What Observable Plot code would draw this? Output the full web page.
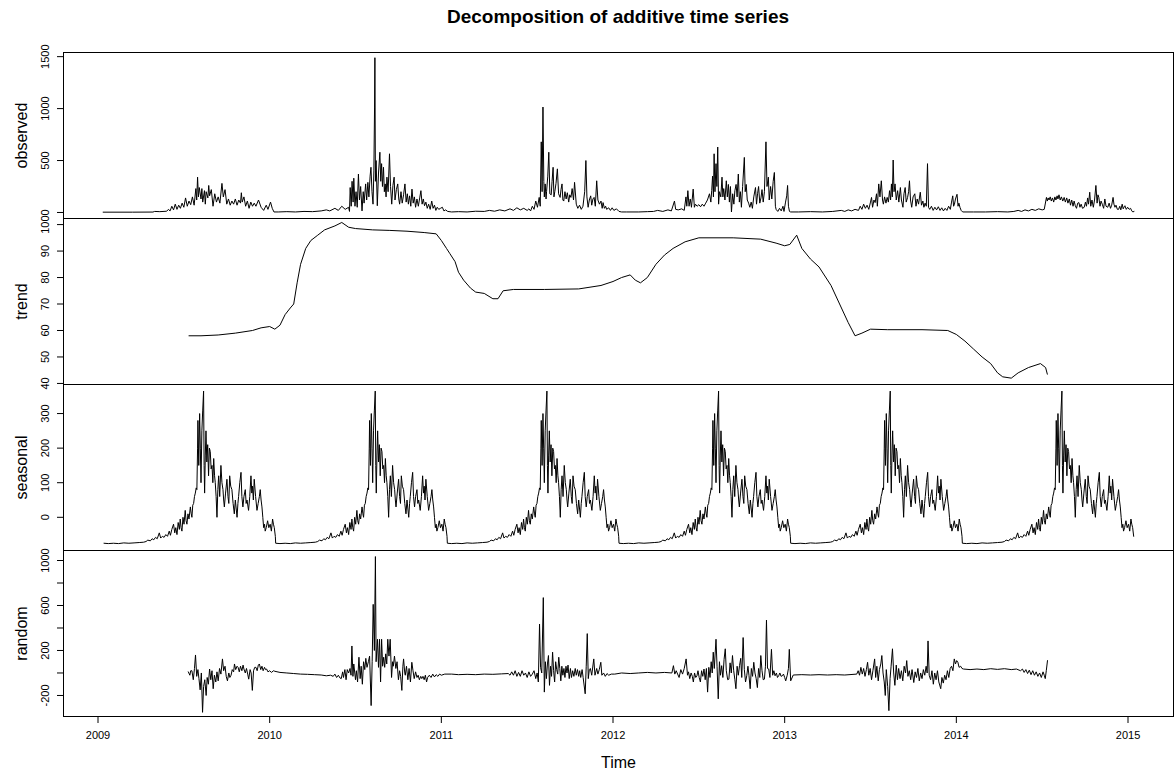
<!DOCTYPE html>
<html><head><meta charset="utf-8">
<script src="https://cdn.jsdelivr.net/npm/d3@7"></script>
<script src="https://cdn.jsdelivr.net/npm/@observablehq/plot@0.6"></script>
<style>
body{margin:0;background:#fff;font-family:"Liberation Sans",Arial,sans-serif;}
#wrap{position:relative;width:1175px;height:770px;overflow:hidden;}
#title{position:absolute;top:6px;left:63px;width:1110px;text-align:center;font-weight:bold;font-size:19px;color:#000;}
.panel{position:absolute;left:0;}
</style></head>
<body><div id="wrap"><div id="title">Decomposition of additive time series</div></div>
<script>
// ---------- data (decimal year, value) ----------
const years = [2009, 2010, 2011, 2012, 2013, 2014, 2015];

const observed = [
[2009.03,3],[2009.2,3],[2009.32,4],[2009.33,10],[2009.36,8],[2009.40,12],[2009.41,30],[2009.42,15],[2009.43,60],[2009.44,25],[2009.45,80],[2009.46,30],[2009.47,70],[2009.48,40],[2009.49,90],[2009.50,50],[2009.51,140],[2009.52,60],[2009.53,110],[2009.54,75],[2009.55,150],[2009.56,70],[2009.57,230],[2009.575,120],[2009.58,340],[2009.585,150],[2009.59,240],[2009.60,130],[2009.605,230],[2009.61,100],[2009.62,210],[2009.625,80],[2009.63,200],[2009.64,140],[2009.645,260],[2009.65,160],[2009.66,220],[2009.67,60],[2009.68,180],[2009.69,100],[2009.70,150],[2009.71,90],[2009.722,280],[2009.73,150],[2009.74,220],[2009.75,80],[2009.76,130],[2009.77,70],[2009.78,110],[2009.79,80],[2009.80,130],[2009.81,70],[2009.82,120],[2009.83,90],[2009.835,190],[2009.84,100],[2009.85,150],[2009.86,60],[2009.87,110],[2009.88,40],[2009.89,100],[2009.90,60],[2009.91,90],[2009.92,60],[2009.935,120],[2009.95,50],[2009.965,20],[2009.98,70],[2009.99,30],[2010.005,100],[2010.015,40],[2010.025,5],
[2010.05,5],[2010.10,8],[2010.15,5],[2010.20,10],[2010.25,8],[2010.30,15],[2010.33,25],[2010.35,15],[2010.38,40],[2010.40,20],[2010.42,60],[2010.44,30],[2010.46,50],[2010.465,10],
[2010.469,240],[2010.475,60],[2010.48,300],[2010.486,100],[2010.49,330],[2010.497,60],[2010.503,200],[2010.51,50],[2010.517,370],[2010.523,120],[2010.53,250],[2010.538,15],[2010.545,200],[2010.55,90],[2010.559,275],[2010.565,120],[2010.572,290],[2010.578,150],[2010.585,350],[2010.59,435],[2010.596,200],[2010.602,80],[2010.607,400],[2010.611,1015],[2010.613,1490],[2010.616,300],[2010.62,500],[2010.627,65],[2010.634,380],[2010.642,580],[2010.647,300],[2010.652,470],[2010.657,250],[2010.663,435],[2010.668,200],[2010.673,275],[2010.678,150],[2010.683,340],[2010.69,200],[2010.698,565],[2010.704,250],[2010.711,80],[2010.718,260],[2010.725,340],[2010.73,120],[2010.738,220],[2010.746,275],[2010.752,130],[2010.757,80],[2010.765,200],[2010.772,90],[2010.78,170],[2010.788,275],[2010.795,100],[2010.802,180],[2010.808,80],[2010.815,160],[2010.822,60],[2010.829,225],[2010.836,90],[2010.843,150],[2010.85,50],[2010.858,130],[2010.866,60],[2010.874,140],[2010.881,210],[2010.888,80],[2010.895,130],[2010.902,65],[2010.91,100],[2010.918,40],[2010.926,80],[2010.935,30],[2010.944,110],[2010.952,40],[2010.96,70],[2010.968,20],[2010.976,50],[2010.985,30],[2010.995,40],[2011.006,50],[2011.015,15],[2011.025,25],[2011.037,10],
[2011.06,5],[2011.10,8],[2011.15,5],[2011.20,12],[2011.25,10],[2011.28,20],[2011.31,12],[2011.34,25],[2011.37,15],[2011.40,35],[2011.42,20],[2011.44,45],[2011.46,25],[2011.48,40],[2011.50,20],[2011.51,35],[2011.52,15],
[2011.53,60],[2011.54,30],[2011.55,110],[2011.56,50],[2011.57,145],[2011.576,60],[2011.582,680],[2011.587,200],[2011.592,1015],[2011.597,300],[2011.60,150],[2011.605,275],[2011.61,130],[2011.613,200],[2011.62,350],[2011.626,580],[2011.632,180],[2011.64,170],[2011.645,300],[2011.651,435],[2011.656,150],[2011.661,200],[2011.668,280],[2011.676,420],[2011.683,180],[2011.692,145],[2011.697,220],[2011.703,275],[2011.708,120],[2011.713,110],[2011.72,200],[2011.727,130],[2011.734,190],[2011.742,100],[2011.748,170],[2011.755,145],[2011.762,230],[2011.77,120],[2011.776,290],[2011.786,80],[2011.795,40],[2011.805,70],[2011.815,30],[2011.825,60],[2011.835,200],[2011.842,500],[2011.848,150],[2011.855,50],[2011.862,120],[2011.87,160],[2011.876,70],[2011.883,130],[2011.89,145],[2011.897,60],[2011.905,305],[2011.912,120],[2011.921,80],[2011.93,110],[2011.937,40],[2011.942,95],[2011.95,40],[2011.957,60],[2011.963,30],[2011.975,45],[2011.985,20],[2011.995,45],[2012.005,20],[2012.02,35],[2012.035,10],[2012.05,5],
[2012.08,5],[2012.15,5],[2012.20,8],[2012.236,10],[2012.26,20],[2012.29,10],[2012.32,25],[2012.34,15],[2012.358,110],[2012.365,30],[2012.38,25],[2012.40,35],[2012.415,20],
[2012.425,150],[2012.43,60],[2012.436,210],[2012.443,60],[2012.45,130],[2012.457,50],[2012.467,225],[2012.474,50],[2012.48,80],[2012.49,60],[2012.50,75],[2012.51,55],[2012.52,80],[2012.53,60],[2012.54,90],[2012.55,120],[2012.562,180],[2012.57,100],[2012.575,210],[2012.58,350],[2012.585,150],[2012.589,565],[2012.594,200],[2012.60,470],[2012.605,250],[2012.61,630],[2012.615,80],[2012.62,200],[2012.628,150],[2012.635,340],[2012.64,150],[2012.645,230],[2012.652,120],[2012.66,305],[2012.666,150],[2012.672,270],[2012.678,100],[2012.684,250],[2012.69,5],[2012.697,180],[2012.704,80],[2012.71,210],[2012.717,270],[2012.723,150],[2012.73,370],[2012.736,100],[2012.742,200],[2012.748,50],[2012.755,250],[2012.765,530],[2012.77,200],[2012.776,270],[2012.782,120],[2012.79,90],[2012.797,50],[2012.805,100],[2012.812,40],[2012.82,150],[2012.83,240],[2012.836,80],[2012.842,180],[2012.848,250],[2012.855,90],[2012.862,140],[2012.868,220],[2012.875,100],[2012.882,200],[2012.891,680],[2012.897,250],[2012.905,340],[2012.91,120],[2012.918,250],[2012.925,130],[2012.933,300],[2012.94,385],[2012.946,60],[2012.95,30],[2012.96,10],[2012.97,40],[2012.98,15],[2012.99,60],[2012.996,10],[2013.005,100],[2013.012,160],[2013.017,260],[2013.022,60],[2013.028,10],[2013.035,5],
[2013.08,5],[2013.15,8],[2013.22,5],[2013.28,10],[2013.33,20],[2013.35,10],[2013.37,25],[2013.39,15],[2013.41,30],[2013.43,20],
[2013.44,60],[2013.45,30],[2013.46,80],[2013.47,40],[2013.48,70],[2013.49,30],[2013.50,100],[2013.506,145],[2013.512,50],[2013.52,120],[2013.527,95],[2013.535,180],[2013.54,60],[2013.548,275],[2013.555,150],[2013.563,305],[2013.57,120],[2013.575,80],[2013.582,150],[2013.59,90],[2013.597,145],[2013.604,100],[2013.611,210],[2013.617,120],[2013.622,275],[2013.627,150],[2013.632,505],[2013.637,200],[2013.643,275],[2013.65,120],[2013.658,210],[2013.665,100],[2013.674,240],[2013.68,120],[2013.689,50],[2013.695,180],[2013.702,240],[2013.708,100],[2013.716,145],[2013.722,200],[2013.727,305],[2013.733,120],[2013.74,50],[2013.748,150],[2013.758,180],[2013.765,60],[2013.772,130],[2013.78,80],[2013.785,140],[2013.79,195],[2013.797,70],[2013.805,110],[2013.811,50],[2013.818,90],[2013.825,60],[2013.832,470],[2013.838,50],[2013.845,30],[2013.855,60],[2013.865,20],[2013.875,50],[2013.885,25],[2013.895,55],[2013.905,20],[2013.915,45],[2013.925,15],[2013.935,40],[2013.945,20],[2013.955,60],[2013.965,30],[2013.972,100],[2013.979,160],[2013.984,60],[2013.989,80],[2013.995,130],[2014.004,175],[2014.01,60],[2014.015,90],[2014.021,50],[2014.028,20],[2014.037,5],
[2014.10,5],[2014.17,5],[2014.24,8],[2014.30,5],[2014.335,10],[2014.36,20],[2014.38,10],[2014.40,25],[2014.42,15],[2014.44,30],[2014.46,20],[2014.48,35],[2014.50,25],[2014.512,30],
[2014.525,145],[2014.53,110],[2014.535,140],[2014.54,120],[2014.547,150],[2014.553,110],[2014.56,140],[2014.567,100],[2014.574,150],[2014.58,120],[2014.587,160],[2014.592,130],[2014.598,170],[2014.605,120],[2014.612,150],[2014.62,110],[2014.628,145],[2014.635,100],[2014.643,140],[2014.65,90],[2014.658,130],[2014.665,70],[2014.672,120],[2014.68,60],[2014.686,110],[2014.693,65],[2014.70,40],[2014.707,90],[2014.714,95],[2014.72,50],[2014.727,80],[2014.735,40],[2014.745,50],[2014.752,100],[2014.758,60],[2014.765,140],[2014.77,80],[2014.777,195],[2014.783,60],[2014.79,120],[2014.798,50],[2014.805,120],[2014.813,260],[2014.82,90],[2014.825,170],[2014.83,145],[2014.837,60],[2014.843,110],[2014.85,80],[2014.858,40],[2014.865,130],[2014.872,60],[2014.882,50],[2014.89,90],[2014.898,40],[2014.905,70],[2014.913,145],[2014.918,80],[2014.924,50],[2014.93,70],[2014.938,30],[2014.945,30],[2014.952,60],[2014.958,25],[2014.966,80],[2014.972,35],[2014.978,55],[2014.982,65],[2014.99,30],[2014.998,50],[2015.007,30],[2015.015,40],[2015.022,15],[2015.028,5],[2015.035,10]
];

const trend = [
[2009.53,58],[2009.6,58],[2009.7,58.3],[2009.8,59],[2009.9,60],[2009.95,61],[2010.0,61.5],[2010.03,60.5],[2010.06,62],[2010.09,66],[2010.12,68.5],[2010.14,70],[2010.16,78],[2010.18,85],[2010.21,91],[2010.24,94],[2010.28,96],[2010.32,98],[2010.38,99.5],[2010.42,100.8],[2010.46,99],[2010.5,98.5],[2010.6,98],[2010.7,97.8],[2010.8,97.5],[2010.9,97],[2010.97,96.5],[2011.0,94],[2011.03,91],[2011.05,89],[2011.08,86],[2011.1,82],[2011.13,79],[2011.17,76],[2011.2,74.5],[2011.25,74],[2011.3,72],[2011.33,72],[2011.36,75],[2011.42,75.5],[2011.6,75.5],[2011.8,75.7],[2011.93,77],[2012.0,78.5],[2012.05,80],[2012.1,81],[2012.13,79],[2012.16,78],[2012.2,80],[2012.25,85],[2012.3,88.5],[2012.35,91],[2012.42,93.5],[2012.5,95],[2012.6,95],[2012.7,95],[2012.86,94.5],[2012.95,93],[2013.0,92],[2013.03,92.5],[2013.07,96],[2013.1,91],[2013.15,87],[2013.2,84],[2013.27,77],[2013.32,70],[2013.37,63],[2013.41,58],[2013.45,59],[2013.5,60.5],[2013.6,60.3],[2013.8,60.3],[2013.95,60],[2014.0,58.5],[2014.05,56],[2014.1,53],[2014.15,50],[2014.2,47.5],[2014.24,44],[2014.27,42.5],[2014.32,42],[2014.36,44],[2014.42,46],[2014.49,47.5],[2014.52,46],[2014.53,43.5]
];

// one period of the (strictly periodic) seasonal component, as [fraction of year, value]
const seasonalCycle = [
[0.035,-75],[0.06,-76],[0.09,-75],[0.12,-76],[0.15,-74],[0.18,-75],[0.21,-74],[0.24,-73],[0.266,-72],[0.28,-70],[0.29,-66],[0.305,-68],[0.315,-62],[0.325,-65],[0.335,-58],[0.345,-62],[0.357,-45],[0.365,-60],[0.375,-55],[0.385,-58],[0.395,-50],[0.405,-55],[0.415,-40],[0.422,-52],[0.43,-35],[0.44,-20],[0.447,-45],[0.453,-30],[0.46,-50],[0.467,-15],[0.474,-35],[0.479,-5],[0.484,-30],[0.489,-40],[0.495,0],[0.501,-20],[0.508,20],[0.513,-10],[0.518,-20],[0.524,10],[0.53,-5],[0.538,30],[0.543,10],[0.547,0],[0.552,35],[0.557,40],[0.562,60],[0.567,70],[0.572,85],[0.576,80],[0.58,200],[0.582,280],[0.587,150],[0.592,300],[0.596,200],[0.6,100],[0.605,250],[0.61,310],[0.615,365],[0.618,150],[0.621,70],[0.625,180],[0.629,250],[0.634,160],[0.639,210],[0.644,120],[0.649,200],[0.654,190],[0.659,140],[0.664,150],[0.669,100],[0.674,170],[0.679,120],[0.683,100],[0.688,60],[0.693,0],[0.698,80],[0.703,120],[0.709,60],[0.716,150],[0.722,100],[0.728,80],[0.732,50],[0.736,30],[0.743,70],[0.751,110],[0.757,60],[0.762,40],[0.767,120],[0.773,90],[0.78,80],[0.787,40],[0.794,10],[0.8,50],[0.81,0],[0.815,40],[0.819,60],[0.826,100],[0.833,130],[0.838,60],[0.844,30],[0.85,60],[0.858,80],[0.863,40],[0.868,50],[0.877,20],[0.884,60],[0.891,120],[0.896,70],[0.9,90],[0.905,50],[0.91,110],[0.918,60],[0.926,20],[0.933,40],[0.94,60],[0.945,80],[0.95,50],[0.955,30],[0.96,0],[0.965,-30],[0.97,-20],[0.974,-40],[0.98,-30],[0.988,-10],[0.995,-30],[1.003,-20],[1.01,-40],[1.017,-5],[1.022,-20],[1.027,-30],[1.033,-55]
];

const random = [
[2009.526,10],[2009.535,-20],[2009.54,20],[2009.547,20],[2009.555,-60],[2009.562,40],[2009.568,160],[2009.575,-30],[2009.582,30],[2009.588,-50],[2009.595,-150],[2009.602,0],[2009.609,-350],[2009.615,-120],[2009.622,-60],[2009.63,-200],[2009.636,-40],[2009.643,-100],[2009.65,35],[2009.657,-60],[2009.664,20],[2009.671,-140],[2009.678,-20],[2009.686,-80],[2009.693,10],[2009.70,-70],[2009.708,40],[2009.716,-10],[2009.725,125],[2009.732,20],[2009.74,60],[2009.747,-30],[2009.754,-70],[2009.762,0],[2009.768,-40],[2009.775,-20],[2009.782,30],[2009.79,10],[2009.795,80],[2009.802,30],[2009.81,60],[2009.816,50],[2009.823,10],[2009.83,60],[2009.838,20],[2009.845,70],[2009.85,35],[2009.858,0],[2009.865,40],[2009.872,-10],[2009.878,-55],[2009.886,30],[2009.892,0],[2009.899,-155],[2009.906,20],[2009.913,50],[2009.92,50],[2009.927,20],[2009.934,70],[2009.94,80],[2009.948,30],[2009.955,60],[2009.962,20],[2009.97,50],[2009.976,30],[2009.982,35],[2009.99,10],[2010.0,20],[2010.01,5],[2010.023,20],[2010.03,15],[2010.06,5],[2010.1,0],[2010.14,-5],[2010.18,-10],[2010.22,-12],[2010.26,-15],[2010.3,-18],[2010.33,-25],[2010.355,-20],[2010.37,-30],[2010.38,-10],[2010.39,-40],[2010.40,-20],[2010.41,-45],[2010.417,-50],[2010.425,10],[2010.43,-40],[2010.438,30],[2010.445,-60],[2010.452,30],[2010.46,0],[2010.468,40],[2010.474,-20],[2010.479,240],[2010.485,-30],[2010.49,80],[2010.5,-60],[2010.505,20],[2010.512,-80],[2010.52,140],[2010.527,-50],[2010.533,60],[2010.54,-100],[2010.547,100],[2010.554,30],[2010.56,130],[2010.567,50],[2010.575,100],[2010.582,150],[2010.591,-290],[2010.597,100],[2010.603,610],[2010.61,200],[2010.616,1035],[2010.62,100],[2010.628,300],[2010.634,50],[2010.64,300],[2010.646,-80],[2010.652,300],[2010.658,60],[2010.664,140],[2010.67,50],[2010.676,170],[2010.682,80],[2010.688,300],[2010.695,150],[2010.702,300],[2010.71,-40],[2010.716,100],[2010.72,60],[2010.727,150],[2010.735,40],[2010.742,100],[2010.75,-60],[2010.757,20],[2010.763,-30],[2010.77,-155],[2010.776,60],[2010.78,125],[2010.787,0],[2010.79,-20],[2010.797,60],[2010.805,-60],[2010.812,40],[2010.82,-80],[2010.828,95],[2010.835,20],[2010.842,-50],[2010.85,10],[2010.858,-40],[2010.865,-20],[2010.872,-60],[2010.88,-30],[2010.886,-50],[2010.893,-30],[2010.9,-60],[2010.907,-20],[2010.914,-80],[2010.92,-40],[2010.93,-20],[2010.94,-40],[2010.95,-10],[2010.96,-35],[2010.97,-15],[2010.98,-30],[2010.99,-10],[2011.0,-20],[2011.02,-10],[2011.06,-10],[2011.1,-15],[2011.15,-12],[2011.2,-15],[2011.25,-10],[2011.3,-12],[2011.35,-8],[2011.39,-5],[2011.4,-20],[2011.41,10],[2011.42,-20],[2011.43,20],[2011.44,-30],[2011.45,5],[2011.46,-30],[2011.47,20],[2011.48,-20],[2011.49,0],[2011.5,-40],[2011.51,10],[2011.52,-30],[2011.53,-10],[2011.54,20],[2011.55,-50],[2011.558,0],[2011.565,-80],[2011.572,435],[2011.578,50],[2011.585,0],[2011.594,670],[2011.6,-170],[2011.606,100],[2011.612,-50],[2011.618,80],[2011.624,155],[2011.63,-110],[2011.636,60],[2011.642,-30],[2011.648,185],[2011.654,20],[2011.66,-80],[2011.666,100],[2011.672,30],[2011.678,-10],[2011.684,140],[2011.69,40],[2011.696,-70],[2011.702,60],[2011.708,-20],[2011.714,40],[2011.72,-40],[2011.726,60],[2011.732,0],[2011.738,70],[2011.745,-50],[2011.752,40],[2011.758,-40],[2011.765,20],[2011.772,-30],[2011.78,40],[2011.786,-20],[2011.793,30],[2011.8,-30],[2011.806,20],[2011.812,-40],[2011.82,30],[2011.826,-40],[2011.838,-185],[2011.844,60],[2011.85,350],[2011.856,-50],[2011.862,30],[2011.868,40],[2011.876,-20],[2011.888,125],[2011.895,-20],[2011.905,40],[2011.912,-10],[2011.92,30],[2011.929,95],[2011.935,-20],[2011.945,0],[2011.955,-30],[2011.965,-5],[2011.975,-20],[2011.99,-10],[2012.01,-10],[2012.05,0],[2012.1,-5],[2012.15,0],[2012.2,5],[2012.25,0],[2012.3,5],[2012.343,0],
[2012.352,65],[2012.36,-10],[2012.368,20],[2012.385,-40],[2012.395,30],[2012.405,-10],[2012.415,40],[2012.426,125],[2012.434,-20],[2012.44,10],[2012.447,-50],[2012.455,0],[2012.462,-30],[2012.468,-80],[2012.475,0],[2012.482,-40],[2012.489,-25],[2012.495,20],[2012.502,-40],[2012.509,-80],[2012.516,20],[2012.523,-30],[2012.53,35],[2012.537,-60],[2012.544,40],[2012.551,-170],[2012.558,50],[2012.565,-40],[2012.572,100],[2012.578,0],[2012.584,185],[2012.59,40],[2012.6,300],[2012.606,60],[2012.613,-230],[2012.62,100],[2012.626,-20],[2012.633,65],[2012.64,-40],[2012.647,120],[2012.654,215],[2012.66,20],[2012.668,-60],[2012.675,-55],[2012.682,90],[2012.689,0],[2012.696,155],[2012.703,20],[2012.71,-60],[2012.716,-140],[2012.723,60],[2012.73,-20],[2012.737,65],[2012.744,130],[2012.75,-40],[2012.758,315],[2012.765,30],[2012.772,-80],[2012.779,-25],[2012.786,60],[2012.792,-20],[2012.799,-140],[2012.806,40],[2012.813,-30],[2012.82,95],[2012.827,0],[2012.834,-50],[2012.841,-130],[2012.848,40],[2012.855,-40],[2012.861,155],[2012.868,20],[2012.875,-60],[2012.882,-55],[2012.888,60],[2012.894,470],[2012.9,40],[2012.907,35],[2012.914,-40],[2012.923,210],[2012.93,-20],[2012.937,20],[2012.944,-25],[2012.952,0],[2012.958,-40],[2012.965,-25],[2012.972,0],[2012.979,-30],[2012.986,-25],[2012.993,-10],[2013.0,-40],[2013.006,-70],[2013.015,-20],[2013.022,40],[2013.027,210],[2013.035,-70],[2013.05,-18],[2013.1,-15],[2013.15,-18],[2013.2,-15],[2013.25,-18],[2013.3,-15],[2013.35,-18],[2013.42,-10],
[2013.428,20],[2013.436,-20],[2013.444,50],[2013.452,-10],[2013.46,40],[2013.468,-30],[2013.476,30],[2013.483,95],[2013.49,-20],[2013.498,40],[2013.506,-60],[2013.514,20],[2013.524,125],[2013.53,-40],[2013.537,60],[2013.545,-70],[2013.552,30],[2013.56,80],[2013.566,155],[2013.573,0],[2013.58,-80],[2013.586,-200],[2013.592,30],[2013.6,-120],[2013.607,-335],[2013.614,-50],[2013.62,60],[2013.628,215],[2013.635,0],[2013.642,-110],[2013.65,70],[2013.657,-60],[2013.664,40],[2013.672,-50],[2013.68,20],[2013.688,-70],[2013.696,60],[2013.704,0],[2013.711,110],[2013.718,-30],[2013.726,20],[2013.734,-60],[2013.742,30],[2013.752,-85],[2013.76,10],[2013.768,-40],[2013.776,40],[2013.784,-70],[2013.792,0],[2013.8,-50],[2013.808,30],[2013.816,-20],[2013.824,60],[2013.83,0],[2013.835,285],[2013.842,-20],[2013.85,-60],[2013.858,20],[2013.866,-100],[2013.874,0],[2013.882,-60],[2013.89,20],[2013.898,-80],[2013.909,-140],[2013.916,-40],[2013.924,-90],[2013.932,-20],[2013.94,-60],[2013.948,20],[2013.956,-40],[2013.964,40],[2013.972,60],[2013.98,20],[2013.988,125],[2013.995,80],[2014.002,110],[2014.009,95],[2014.016,50],[2014.025,60],[2014.033,40],[2014.042,35],[2014.08,30],[2014.12,35],[2014.16,30],[2014.2,38],[2014.24,32],[2014.28,38],[2014.32,30],[2014.35,35],[2014.374,20],[2014.385,35],[2014.395,5],[2014.405,30],[2014.415,-5],[2014.425,25],[2014.435,-15],[2014.445,20],[2014.455,-20],[2014.465,10],[2014.475,-30],[2014.485,0],[2014.495,-40],[2014.505,10],[2014.512,-20],[2014.518,-50],[2014.524,20],[2014.531,110]
];

const obsTicks = [0, 500, 1000, 1500];
const trendTicks = [40, 50, 60, 70, 80, 90, 100];
const seasTicks = [0, 100, 200, 300];
const randTicks = [-200, 0, 200, 400, 600, 800, 1000];
const randLabels = [-200, 200, 600, 1000];

// tile the periodic seasonal component over the series span
const seasonal = [];
for (let k = 0; k < 6; k++) for (const [f, v] of seasonalCycle) seasonal.push([2009 + k + f, v]);

// ---------- drawing ----------
const xDomain = [2008.799, 2015.265];
const FONT = "'Liberation Sans', Arial, Helvetica, sans-serif";

function panel({data, yDomain, ticks, labels, name, top, bottom = false}) {
  const mb = bottom ? 54 : 1;
  const svg = Plot.plot({
    width: 1175, height: 1 + 166 + mb,
    marginLeft: 63, marginRight: 2, marginTop: 1, marginBottom: mb,
    x: {domain: xDomain, axis: null}, y: {domain: yDomain, axis: null},
    style: {background: "transparent", fontFamily: FONT, overflow: "visible", color: "#000"},
    marks: [
      Plot.axisY({ticks, tickSize: 6, tickFormat: () => "", label: null}),
      Plot.text(labels, {y: d => d, text: d => String(d), frameAnchor: "left", textAnchor: "middle", lineAnchor: "middle", dx: -18, rotate: -90, fontSize: 11, fill: "#000"}),
      Plot.text([name], {text: d => d, frameAnchor: "left", textAnchor: "middle", lineAnchor: "middle", dx: -42, rotate: -90, fontSize: 16, fill: "#000"}),
      Plot.line(data, {x: d => d[0], y: d => d[1], stroke: "#000", strokeWidth: 1}),
      Plot.frame({stroke: "#000", strokeWidth: 1}),
      ...(bottom ? [
        Plot.axisX({ticks: years, tickSize: 7, tickPadding: 8, tickFormat: d => String(d), fontSize: 11, label: null}),
        Plot.text(["Time"], {text: d => d, frameAnchor: "bottom", lineAnchor: "middle", dy: 46, fontSize: 16, fill: "#000"})
      ] : [])
    ]
  });
  svg.classList.add("panel");
  svg.style.top = (top - 1) + "px";
  document.getElementById("wrap").appendChild(svg);
}

panel({data: observed, yDomain: [-58, 1540], ticks: obsTicks, labels: obsTicks, name: "observed", top: 52});
panel({data: trend, yDomain: [39.6, 102.3], ticks: trendTicks, labels: trendTicks, name: "trend", top: 218});
panel({data: seasonal, yDomain: [-96, 384], ticks: seasTicks, labels: seasTicks, name: "seasonal", top: 384});
panel({data: random, yDomain: [-387, 1089], ticks: randTicks, labels: randLabels, name: "random", top: 550, bottom: true});
</script></body></html>
